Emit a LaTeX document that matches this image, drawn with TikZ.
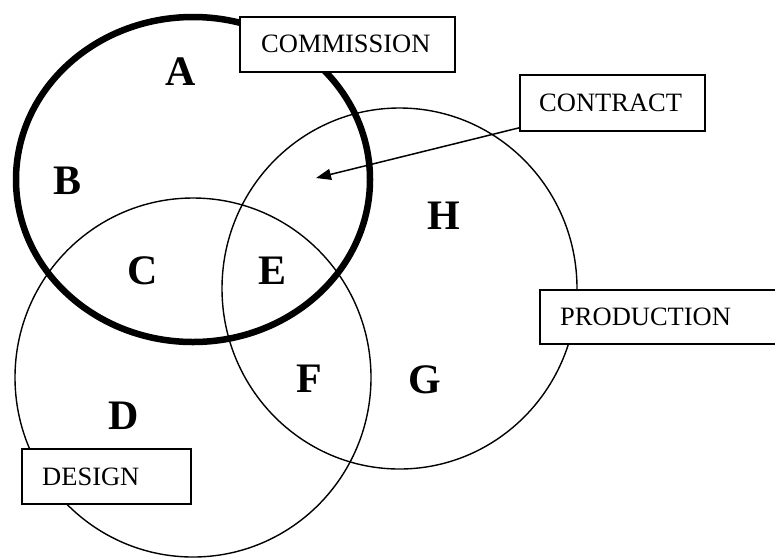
\documentclass[tikz,border=0pt]{standalone}
\usepackage{fontspec}
\setmainfont{Liberation Serif}
\usetikzlibrary{arrows.meta}

\begin{document}
\begin{tikzpicture}[x=1pt, y=-1pt,
  thinring/.style={draw=black, line width=1.4pt},
  thickring/.style={draw=black, line width=6.5pt},
  labelbox/.style={draw=black, fill=white, line width=1.7pt, inner sep=0pt,
                   anchor=north west},
  labeltext/.style={inner sep=0pt, anchor=west,
                    font=\fontsize{26.5}{30}\selectfont},
  region/.style={inner sep=0pt, font=\fontsize{42}{48}\selectfont\bfseries},
  pointer/.style={draw=black, line width=1.5pt,
                  -{Triangle[length=15pt,width=11pt]}}
]
\useasboundingbox (0,0) rectangle (775,558);

% the three sets
\draw[thinring]  (193,377.5) ellipse [x radius=178, y radius=179.5];   % design
\draw[thinring]  (399.5,288.5) ellipse [x radius=177.5, y radius=180.5]; % production
\draw[thickring] (193,179.5) ellipse [x radius=177, y radius=162.5];   % commission

% labelled boxes
\node[labelbox, minimum width=215pt, minimum height=55pt] (commission) at (239,16) {};
\node[labeltext] (commissiontext) at ([xshift=22pt]commission.west) {COMMISSION};

\node[labelbox, minimum width=185pt, minimum height=56pt] (contract) at (519,74) {};
\node[labeltext] (contracttext) at ([xshift=20pt]contract.west) {CONTRACT};

\node[labelbox, minimum width=240pt, minimum height=54pt] (production) at (539,289) {};
\node[labeltext] (productiontext) at ([xshift=21pt]production.west) {PRODUCTION};

\node[labelbox, minimum width=169pt, minimum height=55pt] (design) at (21,448) {};
\node[labeltext] (designtext) at ([xshift=21pt]design.west) {DESIGN};

% pointer from the contract box into the overlap
\coordinate (contracttip) at (316,178);
\draw[pointer] ([yshift=-25pt]contract.west) -- (contracttip);

% region letters
\node[region] (A) at (181,71.5) {A};
\node[region] (B) at (67.5,180.5) {B};
\node[region] (C) at (143,271) {C};
\node[region] (D) at (124,416) {D};
\node[region] (E) at (273,271) {E};
\node[region] (F) at (309,379) {F};
\node[region] (G) at (425,380) {G};
\node[region] (H) at (444,216) {H};
\end{tikzpicture}
\end{document}
